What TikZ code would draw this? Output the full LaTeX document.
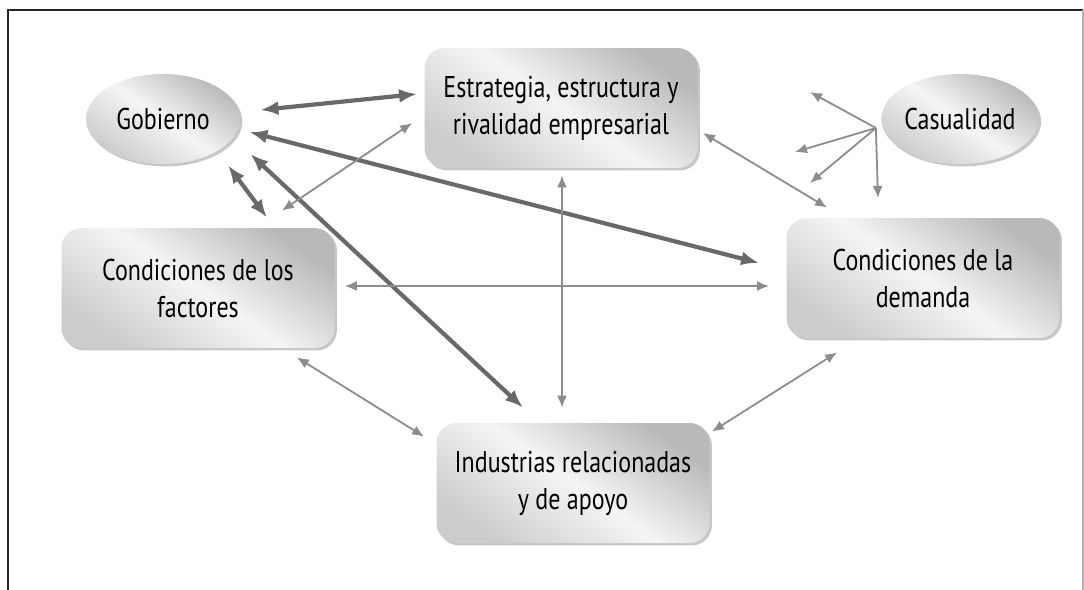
\documentclass[tikz,border=0pt]{standalone}
\usepackage{fontspec}
\setmainfont{PT Sans}[FakeStretch=0.8]
\usetikzlibrary{arrows.meta,shadows,calc,shapes.geometric}
\definecolor{thkc}{RGB}{105,105,105}
\definecolor{thnc}{RGB}{140,140,140}
\begin{document}
\begin{tikzpicture}[x=0.5pt,y=-0.5pt,
  lbl/.style={font=\fontsize{15}{18.5}\selectfont, align=center, text=black},
  shade/.style={left color=gray!55, right color=gray!40, middle color=gray!8, shading angle=-35},
  shad/.style={drop shadow={shadow xshift=1.2pt, shadow yshift=-1.2pt, fill=gray!55, opacity=0.8}},
  box/.style={lbl, shad, shade, rounded corners=10pt, minimum width=136.5pt, minimum height=60pt, inner sep=0pt},
  oval/.style={lbl, shad, shade, ellipse, minimum width=77pt, minimum height=45pt, inner sep=0pt},
  thk/.style={line width=2.1pt, draw=thkc, {Latex[length=9pt,width=7pt]}-{Latex[length=9pt,width=7pt]}},
  thn/.style={line width=0.9pt, draw=thnc, {Latex[length=6pt,width=5pt]}-{Latex[length=6pt,width=5pt]}},
  one/.style={line width=0.9pt, draw=thnc, -{Latex[length=6pt,width=5pt]}}
]
\useasboundingbox (0,0) rectangle (1084,590);
\draw[line width=1.2pt, black!85] (8,590) -- (8,10) -- (1083,10);
\draw[line width=0.6pt, gray!60] (1083,10) -- (1083,590);

\node[oval] (gob) at (163,119) {Gobierno};
\node[oval] (cas) at (960,119) {Casualidad};
\node[box] (est) at (561,108) {Estrategia, estructura y\\rivalidad empresarial};
\node[box] (fac) at (198,288) {Condiciones de los\\factores};
\node[box] (dem) at (923,278) {Condiciones de la\\demanda};
\node[box] (ind) at (573,483) {Industrias relacionadas\\y de apoyo};

% thick connectors from Gobierno
\draw[thk] ($(gob.east)+(20,-9)$) -- ($(est.west)+(-7,-14)$);
\draw[thk] ($(gob.east)+(9,13)$) -- ($(dem.west)+(-27,-15)$);
\draw[thk] ($(gob.east)+(10,35)$) -- ($(ind.north)+(-50,-15)$);
\draw[thk] ($(gob.south)+(65,1)$) -- ($(fac.north)+(69,-10)$);

% thin connectors
\draw[thn] ($(fac.north east)+(-53,-17)$) -- ($(est.west)+(-12,15)$);
\draw[thn] ($(fac.east)+(10,-2)$) -- ($(dem.west)+(-17,8)$);
\draw[thn] ($(est.south)+(1,7)$) -- ($(ind.north)+(-11,-15)$);
\draw[thn] ($(fac.south east)+(-38,9)$) -- ($(ind.north west)+(-12,14)$);
\draw[thn] ($(dem.south west)+(51,14)$) -- ($(ind.north east)+(2,9)$);
\draw[thn] ($(est.east)+(5,25)$) -- ($(dem.north west)+(41,-10)$);

% Casualidad
\coordinate (hub) at ($(cas.west)+(-5,9)$);
\coordinate (c1) at (810,92);
\coordinate (c2) at (795,152);
\coordinate (c3) at (810,183);
\coordinate (c4) at (878,198);
\draw[one] (hub) -- (c1);
\draw[one] (hub) -- (c2);
\draw[one] (hub) -- (c3);
\draw[one] (hub) -- (c4);
\end{tikzpicture}
\end{document}
